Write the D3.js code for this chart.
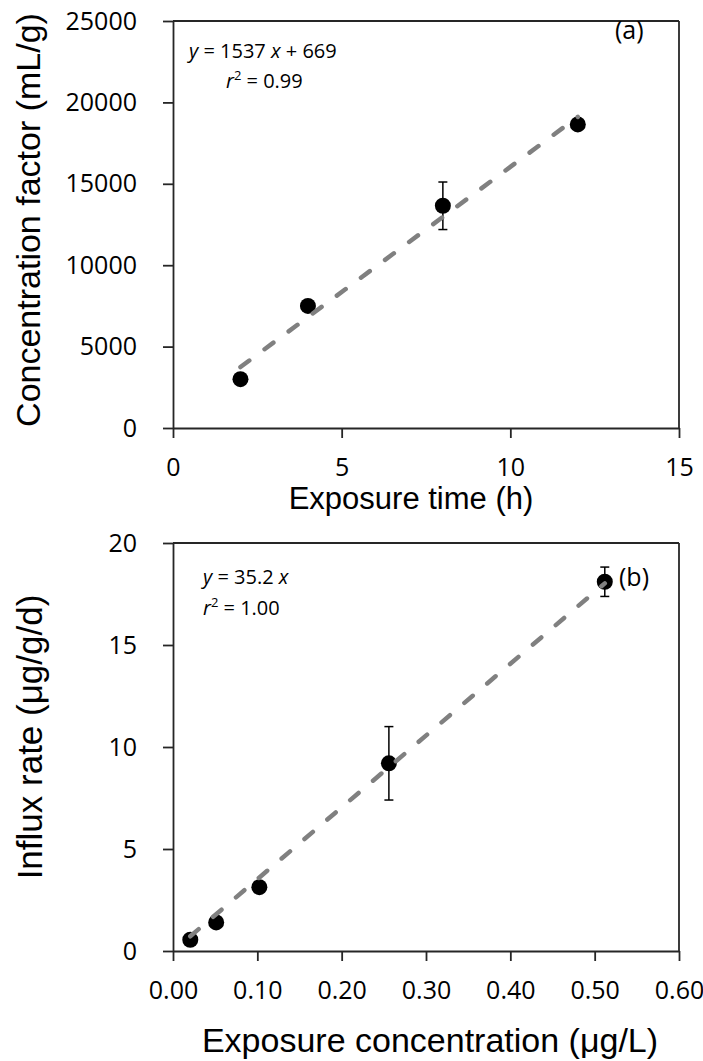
<!DOCTYPE html>
<html><head><meta charset="utf-8">
<script src="https://cdn.jsdelivr.net/npm/d3@7"></script>
<style>
body{margin:0;background:#fff;}
svg{display:block;}
.tick text{font-family:"Open Sans", Lato, sans-serif;font-size:25px;fill:#000;}
</style></head>
<body><svg id="c" width="703" height="1061"></svg>
<script>
// Panel (a)
const timeH = [2, 4, 8, 12];
const concFactor = [3000, 7500, 13650, 18650];
const concFactorErr = [0, 0, 1460, 0];
const fitA = {slope: 1537, intercept: 669, x0: 2, x1: 12};
const xTicksA = [0, 5, 10, 15];
const yTicksA = [0, 5000, 10000, 15000, 20000, 25000];

// Panel (b)
const exposureConc = [0.0205, 0.0512, 0.1024, 0.256, 0.512];
const influxRate = [0.55, 1.40, 3.13, 9.2, 18.1];
const influxErr = [0, 0, 0, 1.8, 0.72];
const fitB = {slope: 35.2, intercept: 0, x0: 0.0205, x1: 0.512};
const xTicksB = [0, 0.1, 0.2, 0.3, 0.4, 0.5, 0.6];
const yTicksB = [0, 5, 10, 15, 20];

const svg = d3.select("#c");
const axisCol = "#262626";

function panel(cfg){
  const g = svg.append("g");
  const x = d3.scaleLinear().domain(cfg.xDom).range([173, 679]);
  const y = d3.scaleLinear().domain(cfg.yDom).range([cfg.bottom, cfg.top]);
  g.append("line").attr("x1",173).attr("x2",679).attr("y1",cfg.top).attr("y2",cfg.top)
    .attr("stroke",axisCol).attr("stroke-width",1.8);
  g.append("line").attr("x1",679).attr("x2",679).attr("y1",cfg.top).attr("y2",cfg.bottom)
    .attr("stroke",axisCol).attr("stroke-width",1.8);
  const ax = g.append("g").attr("transform",`translate(0,${cfg.bottom})`)
    .call(d3.axisBottom(x).tickValues(cfg.xTicks).tickFormat(cfg.xFmt).tickSizeInner(10).tickSizeOuter(0).tickPadding(cfg.xPad));
  const ay = g.append("g").attr("transform","translate(173,0)")
    .call(d3.axisLeft(y).tickValues(cfg.yTicks).tickFormat(cfg.yFmt).tickSizeInner(10).tickSizeOuter(0).tickPadding(26));
  [ax, ay].forEach(a=>{
    a.select(".domain").attr("stroke",axisCol).attr("stroke-width",1.8);
    a.selectAll(".tick line").attr("stroke",axisCol).attr("stroke-width",1.8);
  });
  const eb = g.append("g");
  cfg.xs.forEach((xv,i)=>{
    const e = cfg.err[i]; if(!e) return;
    const cx = x(xv), yt = y(cfg.ys[i]+e), yb = y(cfg.ys[i]-e);
    eb.append("line").attr("x1",cx).attr("x2",cx).attr("y1",yt).attr("y2",yb).attr("stroke","#000").attr("stroke-width",1.5);
    [yt,yb].forEach(yy=>eb.append("line").attr("x1",cx-4.5).attr("x2",cx+4.5).attr("y1",yy).attr("y2",yy).attr("stroke","#000").attr("stroke-width",1.5));
  });
  g.append("g").selectAll("circle").data(cfg.xs).join("circle")
    .attr("cx",d=>x(d)).attr("cy",(d,i)=>y(cfg.ys[i])).attr("r",8).attr("fill","#000");
  const f = cfg.fit;
  g.append("line").attr("x1",x(f.x0)).attr("y1",y(f.slope*f.x0+f.intercept))
    .attr("x2",x(f.x1)).attr("y2",y(f.slope*f.x1+f.intercept))
    .attr("stroke","#808080").attr("stroke-width",4.5).attr("stroke-linecap","round")
    .attr("stroke-dasharray","11,19");
  g.append("text").attr("x",cfg.xTitleX).attr("y",cfg.xTitleY).attr("text-anchor","middle")
    .attr("font-family","'Liberation Sans', Arial, sans-serif").attr("font-size",cfg.xTitleSize).attr("fill","#000")
    .text(cfg.xTitle);
  g.append("text").attr("transform",`translate(${cfg.yTitleX},${cfg.yTitleCY}) rotate(-90)`)
    .attr("text-anchor","middle").attr("dy","0.35em")
    .attr("font-family","'Liberation Sans', Arial, sans-serif").attr("font-size",cfg.yTitleSize).attr("fill","#000")
    .text(cfg.yTitle);
  return {g,x,y};
}

const A = panel({xDom:[0,15], yDom:[0,25000], top:21, bottom:428, xTicks:xTicksA, yTicks:yTicksA,
  xFmt:d3.format("d"), yFmt:d3.format("d"), xPad:20,
  xs:timeH, ys:concFactor, err:concFactorErr, fit:fitA,
  xTitle:"Exposure time (h)", xTitleX:411, xTitleY:509, xTitleSize:31,
  yTitle:"Concentration factor (mL/g)", yTitleX:28, yTitleCY:220, yTitleSize:34});
const B = panel({xDom:[0,0.6], yDom:[0,20], top:543, bottom:951, xTicks:xTicksB, yTicks:yTicksB,
  xFmt:d3.format(".2f"), yFmt:d3.format("d"), xPad:20,
  xs:exposureConc, ys:influxRate, err:influxErr, fit:fitB,
  xTitle:"Exposure concentration (\u03BCg/L)", xTitleX:430, xTitleY:1052, xTitleSize:34,
  yTitle:"Influx rate (\u03BCg/g/d)", yTitleX:30, yTitleCY:737, yTitleSize:35});

const ff = "'Open Sans', Lato, sans-serif";
function eq(g, x, y, parts){
  const t = g.append("text").attr("x",x).attr("y",y).attr("font-family",ff).attr("font-size",20).attr("fill","#000");
  parts.forEach(p=>{
    const s = t.append("tspan").text(p.t);
    if(p.i) s.attr("font-style","italic");
    if(p.sup) s.attr("font-size",13).attr("dy",-8);
    if(p.down) s.attr("dy",8);
  });
}
eq(A.g, 189, 58, [{t:"y",i:1},{t:" = 1537 "},{t:"x",i:1},{t:" + 669"}]);
eq(A.g, 226, 88, [{t:"r",i:1},{t:"2",sup:1},{t:" = 0.99",down:1}]);
eq(B.g, 203, 584, [{t:"y",i:1},{t:" = 35.2 "},{t:"x",i:1}]);
eq(B.g, 203, 615, [{t:"r",i:1},{t:"2",sup:1},{t:" = 1.00",down:1}]);
A.g.append("text").attr("x",615).attr("y",39).attr("font-family",ff).attr("font-size",25).text("(a)");
B.g.append("text").attr("x",619).attr("y",586).attr("font-family",ff).attr("font-size",25).text("(b)");
</script></body></html>
